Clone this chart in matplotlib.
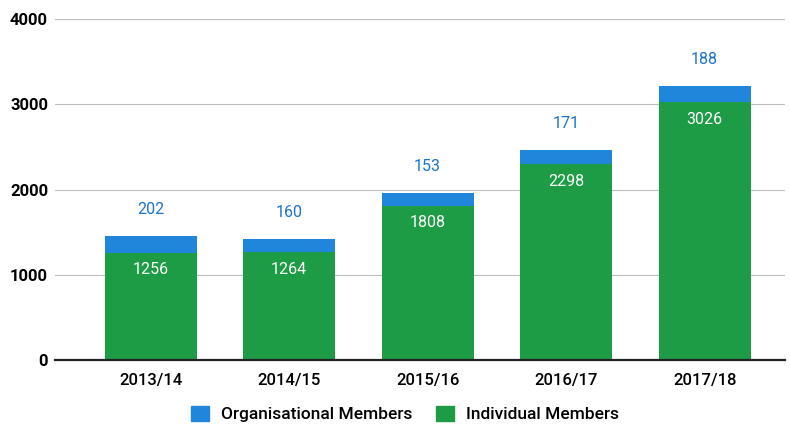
import numpy as np
import matplotlib
matplotlib.use('Agg')
import matplotlib.pyplot as plt
from matplotlib.patches import Patch

plt.rcParams['font.family'] = ['Roboto', 'DejaVu Sans']

years = ['2013/14', '2014/15', '2015/16', '2016/17', '2017/18']
individual = [1256, 1264, 1808, 2298, 3026]
organisational = [202, 160, 153, 171, 188]

GREEN = '#1e9b45'
BLUE = '#1f86dc'
LABEL_BLUE = '#1a74cc'

fig = plt.figure(figsize=(7.9, 4.26), dpi=100)
ax = fig.add_axes([55 / 790, 66 / 426, 730 / 790, 341 / 426])

x = np.arange(len(years))
w = 0.665
ax.bar(x, individual, w, color=GREEN, zorder=2)
ax.bar(x, organisational, w, bottom=individual, color=BLUE, zorder=2)

for xi, ind, org in zip(x, individual, organisational):
    ax.text(xi, ind - 200, str(ind), ha='center', va='center', color='white', fontsize=11.5, zorder=3)
    ax.text(xi, ind + org + 310, str(org), ha='center', va='center', color=LABEL_BLUE, fontsize=11.5)

ax.set_xlim(-0.69, 4.58)
ax.set_ylim(0, 4000)
ax.set_yticks([0, 1000, 2000, 3000, 4000])
ax.grid(axis='y', color='#bdbdbd', lw=0.8, zorder=0)
for s in ['top', 'right', 'left']:
    ax.spines[s].set_visible(False)
ax.spines['bottom'].set_color('#222222')
ax.spines['bottom'].set_linewidth(1.6)
ax.spines['bottom'].set_zorder(4)
ax.tick_params(length=0)
ax.tick_params(axis='y', pad=5, labelsize=12)
ax.tick_params(axis='x', pad=9, labelsize=12)
ax.set_xticks(x)
ax.set_xticklabels(years)
for lab in ax.get_yticklabels():
    lab.set_fontweight('bold')
for lab in ax.get_xticklabels():
    lab.set_fontweight('medium')

handles = [Patch(color=BLUE, label='Organisational Members'),
           Patch(color=GREEN, label='Individual Members')]
fig.legend(handles=handles, loc='center', bbox_to_anchor=(405 / 790, 1 - 414 / 426), ncol=2,
           frameon=False, fontsize=12.5, handlelength=1.0, handleheight=1.0, columnspacing=1.4,
           handletextpad=0.7, prop={'size': 12.5, 'weight': 'medium'})

fig.savefig('out.png', dpi=100)
